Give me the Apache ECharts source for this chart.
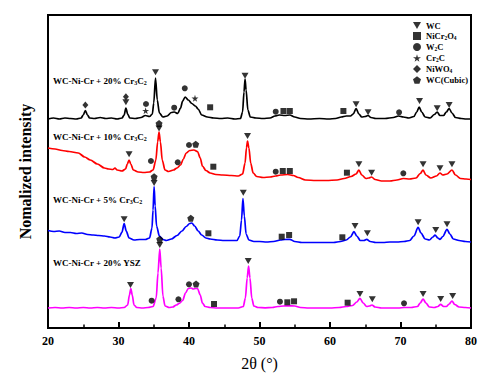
<!DOCTYPE html>
<html>
<head>
<meta charset="utf-8">
<script src="https://cdn.jsdelivr.net/npm/echarts@6/dist/echarts.min.js"></script>
<style>html,body{margin:0;padding:0;background:#fff}#chart{width:491px;height:383px}</style>
</head>
<body>
<div id="chart"></div>
<script>
// ---- Data (2θ in degrees, intensity in arbitrary stacked units) ----
const xTicks = [20, 30, 40, 50, 60, 70, 80];
const sampleNames = ['WC-Ni-Cr + 20% Cr3C2', 'WC-Ni-Cr + 10% Cr3C2', 'WC-Ni-Cr + 5% Cr3C2', 'WC-Ni-Cr + 20% YSZ'];
const phaseNames = ['WC', 'NiCr2O4', 'W2C', 'Cr2C', 'NiWO4', 'WC(Cubic)'];

const blackCurve = [
[20,209],[20.8,210],[21.6,209],[22.4,210],[23.2,209.5],[24,209],[24.7,210],[25.0,213],[25.3,217.5],[25.6,213],[25.9,210],[26.6,209.5],[27.4,210.5],[28.2,209.5],[29,210],[29.8,209],[30.5,210],[30.8,213],[31.05,220],[31.3,214],[31.6,210],[32.4,209.5],[33.2,210.5],[33.8,212.5],[34.4,211.5],[34.8,214],[35.0,225],[35.25,250],[35.5,228],[35.8,215],[36.3,211],[36.9,212],[37.5,215.5],[37.9,216],[38.4,214.5],[38.8,220],[39.1,227],[39.45,231],[39.9,228],[40.4,224.5],[40.9,222],[41.3,219],[41.8,213],[42.6,211],[43.5,210],[44.5,209.5],[45.5,210],[46.5,209],[47.3,209.5],[47.6,216],[47.8,236],[47.95,249],[48.1,238],[48.35,218],[48.7,211],[49.5,210],[50.5,209.5],[51.5,210],[52.2,212],[52.8,213],[53.6,212.5],[54.3,213],[55,211],[55.8,209.5],[57,209],[58.5,209.5],[59.8,209],[60.8,209.5],[61.6,211],[62.3,212],[62.9,212],[63.3,214],[63.7,219.5],[64.1,214],[64.5,211],[65,211.5],[65.4,212.5],[65.8,210.5],[66.5,209.5],[67.8,209.5],[69,210.5],[69.7,212],[70.4,211],[71.2,210],[71.9,211.5],[72.3,216],[72.65,221],[73,216],[73.5,211],[74.2,210],[74.8,213.5],[75.2,216],[75.6,212.5],[76.1,212.5],[76.5,216],[76.9,219.5],[77.3,215],[77.8,210.5],[78.6,209.5],[79.3,209],[80,209]
];
const redCurve = [
[20,180],[21,179],[22,177.5],[23,176.5],[24.3,175],[25.2,171],[26,168],[27,164],[28,160],[28.6,159],[29.2,158.5],[29.5,160],[29.8,158],[30.5,157],[31,159],[31.25,164],[31.5,168],[31.75,164],[32.1,158],[32.8,156],[33.6,155.5],[34.4,156],[34.9,158],[35.3,168],[35.55,186],[35.75,196],[35.95,186],[36.2,168],[36.6,158],[37.1,156.5],[37.8,158],[38.3,160],[38.8,163],[39.2,169],[39.6,175],[40.1,177.5],[40.7,178],[41.2,176.5],[41.6,170],[41.9,162],[42.4,157.5],[43,155],[43.8,153.5],[44.8,153],[46,152.5],[47,152],[47.6,154],[47.95,165],[48.15,180],[48.3,187],[48.5,180],[48.75,165],[49.1,155],[49.6,151.5],[50.5,150.5],[51.5,151],[52.3,152],[53,153],[54,153.5],[54.8,152.5],[55.5,150.5],[56.5,148],[58,147.5],[59.5,147.5],[61,148],[62,149.5],[63,151.5],[63.7,154],[64.1,158],[64.5,153],[65.1,149.5],[65.5,150],[65.9,151],[66.4,148.5],[67.3,147],[68.5,147],[69.5,148],[70.4,149.5],[71.3,149],[72.2,150],[72.8,154.5],[73.2,158],[73.6,153],[74.3,150],[75.1,152],[75.6,155],[76,153],[76.6,154],[77.3,158],[77.8,153],[78.5,149.5],[79.3,149],[80,148.5]
];
const blueCurve = [
[20,97.5],[20.8,96.5],[21.6,97],[22.4,95.5],[23.2,95.5],[24,94.5],[24.8,95],[25.6,93.5],[26.4,93],[27.2,92.5],[28,92],[28.8,91],[29.5,90],[30.1,91],[30.5,96],[30.8,104.5],[31.1,97],[31.5,90],[32.2,88],[33,88.5],[33.8,88.5],[34.4,90],[34.75,100],[34.9,118],[35.05,141.5],[35.2,122],[35.4,102],[35.8,92],[36.3,88.5],[36.8,87.5],[37.5,89],[38.3,92.5],[39,97],[39.6,101.5],[40.1,104.5],[40.4,105],[40.8,102],[41.3,97],[41.8,93],[42.4,90],[43,89],[44,88],[45,87.5],[46,87.5],[46.8,87.5],[47.2,92],[47.45,108],[47.65,129.5],[47.85,112],[48.1,94],[48.5,88],[49.2,86.5],[50,86.5],[51,86],[52,86.5],[53,88],[53.6,88.5],[54.3,88.7],[55,86.5],[56,85.5],[57.5,85.5],[59,85.5],[60.5,85.5],[61.5,86.5],[62.3,88],[62.9,91],[63.4,96.3],[63.8,92],[64.3,87.5],[64.8,87.5],[65.2,88.7],[65.7,86.5],[66.5,85.5],[67.5,85.5],[68.5,86],[69.5,86],[70.5,86.5],[71.3,87.5],[71.9,92],[72.5,100.7],[72.9,95],[73.5,89],[74.1,88],[74.6,91],[74.9,93],[75.3,90],[75.6,88.7],[76.0,91.5],[76.6,98.7],[77.0,94],[77.5,89],[78.3,87.5],[79.2,86.5],[80,86]
];
const magentaCurve = [
[20,20],[21,20.5],[22,20],[23,20.5],[24,20],[25,20.5],[26,20],[27,20.5],[28,20],[29,20.5],[30,20],[30.8,20.5],[31.3,23],[31.55,33],[31.75,39.5],[31.95,33],[32.2,23],[32.6,20.5],[33.4,20],[34.2,20.5],[34.9,21.5],[35.35,30],[35.6,55],[35.85,79],[36.05,60],[36.3,32],[36.6,22],[37.2,20.5],[37.7,21],[38.2,23],[38.6,24.5],[39.1,27.5],[39.5,35],[39.9,39.5],[40.3,40],[40.6,39],[40.9,39.5],[41.2,39.5],[41.6,33],[41.9,25],[42.3,21.5],[43,20.5],[44,20],[45,20],[46,20],[47,20],[47.7,21.5],[48.0,30],[48.25,50],[48.45,62],[48.65,50],[48.9,30],[49.2,22],[49.8,20.5],[50.8,20.2],[51.8,20.5],[52.6,21.5],[53.4,22],[54.2,22.2],[55,22],[55.8,20.5],[57,20],[58.5,20],[60,20],[61.3,20.5],[62.3,21.5],[63.2,22.5],[63.8,26],[64.25,29.7],[64.7,25],[65.2,21.5],[65.6,22],[65.95,23],[66.4,21],[67.3,20],[68.5,20],[69.7,20],[70.5,20.5],[71.5,20.5],[72.4,21.5],[72.8,25],[73.2,29],[73.6,25],[74.1,21],[74.8,20.5],[75.3,21.5],[75.7,23.7],[76.1,21.5],[76.5,21.5],[76.9,24],[77.3,27],[77.7,23.5],[78.3,21],[79.2,20.5],[80,20]
];

// Phase identification marks [2θ, level]
const wcMarks = [
[31.05,225.7],[35.25,255.7],[47.95,252.3],[63.7,223.7],[65.4,215.7],[72.7,227],[75.2,219.7],[76.9,223],
[31.5,173.7],[35.75,199.5],[48.3,192],[64.1,163.7],[65.9,155.3],[73.2,163.7],[75.6,159.7],[77.3,163.7],
[30.8,108.7],[35.05,145],[47.7,135.3],[63.55,102],[65.3,94.7],[72.5,105.7],[75.0,98],[76.6,103.7],
[31.7,43],[35.85,83],[48.4,67],[64.25,34],[66.0,28.7],[73.2,34],[75.7,29],[77.4,32]
];
const niCr2O4Marks = [
[43.0,220.7],[53.4,217],[54.3,217],[61.9,217],
[43.45,161.3],[53.3,157],[54.3,157],[62.4,155.3],
[42.75,94.7],[53.15,91.3],[54.2,93],[61.75,90.7],
[43.55,24],[53.95,25.7],[54.9,26.7],[62.5,25.3]
];
const w2cMarks = [
[33.9,224],[37.9,220.3],[39.4,239.7],[52.3,216.3],[69.8,215.7],
[34.6,167],[38.4,165.7],[40.0,183],[52.3,156.3],[70.4,154.7],
[34.7,27.3],[38.5,28.7],[40.0,43.7],[52.9,26.3],[70.5,24.7]
];
const cr2cMarks = [[33.85,217.3],[40.85,229.7]];
const niWO4Marks = [[25.3,223],[31.05,231.3]];
const wcCubicMarks = [
[35.75,204.5],[40.95,183.7],
[35.05,151.3],[40.25,109.7],
[35.85,88.7],[41.0,44]
];

// ---- Styling ----
const FONT = "'Liberation Serif','Times New Roman',serif";
const curveRich = {
  a: {fontSize: 9, fontWeight: 'bold', fontFamily: FONT, color: '#000', lineHeight: 10},
  b: {fontSize: 6, fontWeight: 'bold', fontFamily: FONT, color: '#000', lineHeight: 10, verticalAlign: 'bottom', padding: [3, 0, 0, 0]}
};
const legRich = {
  a: {fontSize: 8.5, fontWeight: 'bold', fontFamily: FONT, color: '#000', lineHeight: 10},
  b: {fontSize: 5.5, fontWeight: 'bold', fontFamily: FONT, color: '#000', lineHeight: 10, verticalAlign: 'bottom', padding: [3, 0, 0, 0]}
};
function curveLabel(name) {
  const i = name.lastIndexOf('% ');
  const head = name.slice(0, i + 2);
  const tail = name.slice(i + 2).replace(/([A-Za-z])(\d)/g, '$1}{b|$2}{a|');
  return ('{a|' + head + tail + '}').replace(/\{a\|\}/g, '');
}
function legendLabel(name) {
  if (name === 'WC(Cubic)' || name === 'WC') return '{a|' + name + '}';
  return ('{a|' + name.replace(/([A-Za-z])(\d)/g, '$1}{b|$2}{a|') + '}').replace(/\{a\|\}/g, '');
}

const colors = ['#000000', '#ff0000', '#0000ff', '#ff00ff'];
const curves = [blackCurve, redCurve, blueCurve, magentaCurve];
const labelTops = [76, 132, 195, 258];

const DOWN_TRIANGLE = 'path://M0,0 L100,0 L50,86 Z';
const STAR = 'path://M50,0 L61,35 L98,35 L68,57 L79,91 L50,70 L21,91 L32,57 L2,35 L39,35 Z';
const PENTAGON = 'path://M50,0 L98,35 L79,91 L21,91 L2,35 Z';
const markSets = [
  {name: 'WC', data: wcMarks, symbol: DOWN_TRIANGLE, size: [7, 6]},
  {name: 'NiCr2O4', data: niCr2O4Marks, symbol: 'rect', size: 6},
  {name: 'W2C', data: w2cMarks, symbol: 'circle', size: 6},
  {name: 'Cr2C', data: cr2cMarks, symbol: STAR, size: 7},
  {name: 'NiWO4', data: niWO4Marks, symbol: 'diamond', size: [6, 7]},
  {name: 'WC(Cubic)', data: wcCubicMarks, symbol: PENTAGON, size: 7}
];

const series = [];
curves.forEach(function (c, i) {
  series.push({
    type: 'line', name: sampleNames[i], data: c, showSymbol: false, smooth: 0.3, smoothMonotone: 'x',
    lineStyle: {color: colors[i], width: 1.7}, itemStyle: {color: colors[i]}, z: 2, silent: true
  });
});
markSets.forEach(function (m) {
  series.push({
    type: 'scatter', name: m.name, data: m.data, symbol: m.symbol,
    symbolSize: m.size, itemStyle: {color: '#000'}, z: 5, silent: true
  });
});

const chart = echarts.init(document.getElementById('chart'), null, {renderer: 'svg'});
chart.setOption({
  animation: false,
  backgroundColor: '#fff',
  grid: {left: 48, right: 20, top: 15, bottom: 55, show: true, borderColor: '#000', borderWidth: 2, containLabel: false},
  xAxis: {
    type: 'value', min: xTicks[0], max: xTicks[xTicks.length - 1], interval: 10,
    axisLine: {lineStyle: {color: '#000', width: 2}},
    axisTick: {inside: true, length: 6, lineStyle: {color: '#000', width: 2}},
    minorTick: {show: true, splitNumber: 2, length: 3.5, lineStyle: {color: '#000', width: 1.5}},
    splitLine: {show: false},
    axisLabel: {margin: 7, color: '#000', fontSize: 12, fontWeight: 'bold', fontFamily: FONT},
    name: '2θ (°)', nameLocation: 'middle', nameGap: 27,
    nameTextStyle: {color: '#000', fontSize: 16, fontFamily: FONT}
  },
  yAxis: {
    type: 'value', min: 0, max: 313,
    axisLine: {show: true, lineStyle: {color: '#000', width: 2}},
    axisTick: {show: false}, axisLabel: {show: false}, splitLine: {show: false},
    name: 'Nomalized intensity', nameLocation: 'middle', nameGap: 15,
    nameTextStyle: {color: '#000', fontSize: 16, fontWeight: 'bold', fontFamily: FONT}
  },
  legend: {
    data: phaseNames, orient: 'vertical', left: 413, top: 21,
    itemWidth: 8, itemHeight: 8, itemGap: 1.5, padding: 0,
    formatter: legendLabel,
    textStyle: {rich: legRich, fontSize: 8.5, fontWeight: 'bold', fontFamily: FONT, color: '#000'},
    selectedMode: false
  },
  graphic: sampleNames.map(function (n, i) {
    return {type: 'text', left: 53, top: labelTops[i], silent: true,
      style: {text: curveLabel(n), rich: curveRich, fill: '#000'}};
  }),
  series: series
});
</script>
</body>
</html>
